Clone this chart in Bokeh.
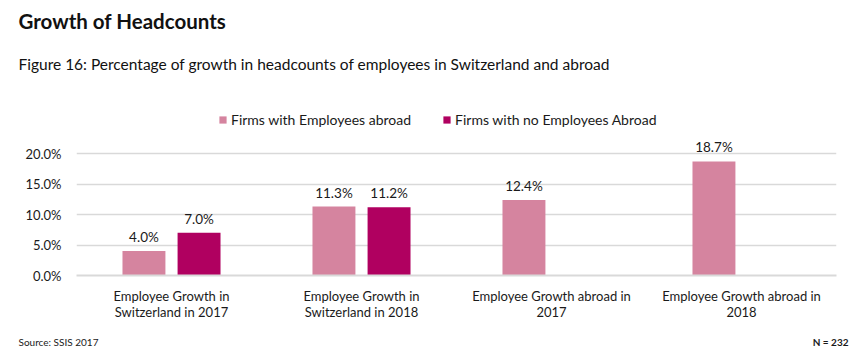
from bokeh.plotting import figure
from bokeh.layouts import column
from bokeh.models import (ColumnDataSource, FactorRange, Range1d, FixedTicker, Legend, LegendItem,
                          Label, CustomJSTickFormatter)
from bokeh.transform import dodge
from bokeh.embed import file_html
from bokeh.resources import INLINE

categories = ["Employee Growth in\nSwitzerland in 2017", "Employee Growth in\nSwitzerland in 2018",
              "Employee Growth abroad in\n2017", "Employee Growth abroad in\n2018"]
firms_abroad = [4.0, 11.3, 12.4, 18.7]
firms_no_abroad = [7.0, 11.2, None, None]
y_ticks = [0, 5, 10, 15, 20]
series_names = ["Firms with Employees abroad", "Firms with no Employees Abroad"]

PINK = "#D5849F"
MAGENTA = "#B00060"
FONT = "Lato"
TXT = "#1a1a1a"


def text_panel(height):
    f = figure(width=860, height=height, x_range=Range1d(0, 860), y_range=Range1d(0, height),
               output_backend="svg", toolbar_location=None, min_border=0,
               x_axis_location=None, y_axis_location=None)
    f.frame_align = False
    f.outline_line_color = None
    f.grid.visible = False
    return f


# header: title + subtitle
head = text_panel(100)
head.add_layout(Label(x=18, y=80, x_units="screen", y_units="screen", text="Growth of Headcounts",
                      text_font=FONT, text_font_size="20.5px", text_font_style="bold",
                      text_baseline="middle", text_color="#111111"))
head.add_layout(Label(x=18, y=37, x_units="screen", y_units="screen",
                      text="Figure 16: Percentage of  growth in headcounts of employees in Switzerland and abroad",
                      text_font=FONT, text_font_size="15.5px", text_baseline="middle", text_color="#111111"))

# main chart
src_a = ColumnDataSource(dict(cat=categories, val=firms_abroad,
                              lab=[f"{v:.1f}%" for v in firms_abroad]))
cats_b = [c for c, v in zip(categories, firms_no_abroad) if v is not None]
vals_b = [v for v in firms_no_abroad if v is not None]
src_b = ColumnDataSource(dict(cat=cats_b, val=vals_b, lab=[f"{v:.1f}%" for v in vals_b]))

p = figure(width=860, height=230, x_range=FactorRange(*categories, range_padding=0),
           y_range=Range1d(0, 28.7), output_backend="svg", toolbar_location=None,
           min_border_left=76, min_border_right=24, min_border_top=0, min_border_bottom=55)
p.frame_align = False
p.outline_line_color = None
p.background_fill_color = "white"
p.border_fill_color = "white"

ra = p.vbar(x=dodge("cat", -0.145, range=p.x_range), top="val", width=0.226, source=src_a,
            fill_color=PINK, line_color=None)
rb = p.vbar(x=dodge("cat", 0.145, range=p.x_range), top="val", width=0.226, source=src_b,
            fill_color=MAGENTA, line_color=None)

for src, off in ((src_a, -0.145), (src_b, 0.145)):
    p.text(x=dodge("cat", off, range=p.x_range), y="val", text="lab", source=src,
           text_align="center", text_baseline="bottom", y_offset=-6,
           text_font_size="13.5px", text_color=TXT, text_font={"value": FONT})

p.yaxis.ticker = FixedTicker(ticks=y_ticks)
p.yaxis.formatter = CustomJSTickFormatter(code="return tick.toFixed(1) + '%';")
p.yaxis.axis_line_color = None
p.yaxis.major_tick_line_color = None
p.yaxis.minor_tick_line_color = None
p.yaxis.major_label_standoff = 9
p.yaxis.major_label_text_font = FONT
p.yaxis.major_label_text_font_size = "13px"
p.yaxis.major_label_text_color = TXT

p.xaxis.axis_line_color = "#D9D9D9"
p.xaxis.axis_line_width = 2
p.xaxis.major_tick_line_color = None
p.xaxis.minor_tick_line_color = None
p.xaxis.major_label_standoff = 6
p.xaxis.major_label_text_font = FONT
p.xaxis.major_label_text_font_size = "13px"
p.xaxis.major_label_text_line_height = 1.05
p.xaxis.major_label_text_color = TXT
p.xaxis.major_label_orientation = "horizontal"

p.xgrid.grid_line_color = None
p.ygrid.grid_line_color = "#D9D9D9"
p.ygrid.grid_line_width = 1.5

legend = Legend(items=[LegendItem(label=series_names[0], renderers=[ra]),
                       LegendItem(label=series_names[1], renderers=[rb])],
                orientation="horizontal", location=(142, 147), padding=0, margin=0,
                spacing=31, glyph_width=9, glyph_height=9, label_standoff=4,
                label_text_font=FONT, label_text_font_size="14px", label_text_color=TXT,
                border_line_color=None, background_fill_alpha=0)
p.add_layout(legend, "center")

# footer
foot = text_panel(27)
foot.add_layout(Label(x=18, y=16, x_units="screen", y_units="screen", text="Source: SSIS 2017",
                      text_font=FONT, text_font_size="10px", text_baseline="middle", text_color=TXT))
foot.add_layout(Label(x=848, y=16, x_units="screen", y_units="screen", text="N = 232",
                      text_font=FONT, text_font_size="10px", text_font_style="bold", text_align="right",
                      text_baseline="middle", text_color=TXT))

layout = column(head, p, foot, spacing=0)
open("out.html", "w").write(file_html(layout, INLINE))
